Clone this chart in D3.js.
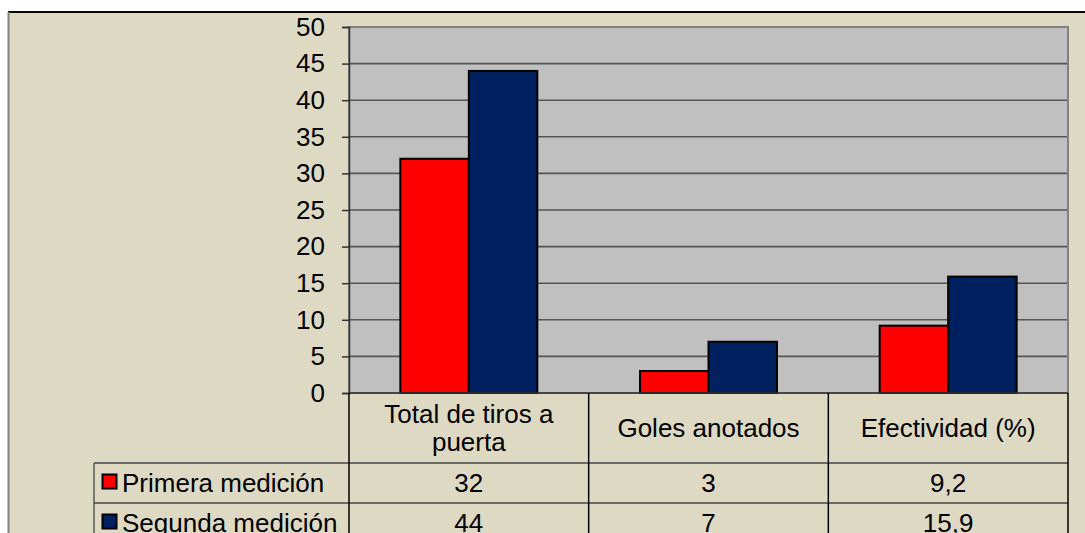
<!DOCTYPE html>
<html>
<head>
<meta charset="utf-8">
<script src="https://cdn.jsdelivr.net/npm/d3@7"></script>
<style>
  body { margin: 0; background: #fff; }
  text { font-family: "Liberation Sans", Arial, sans-serif; fill: #000; }
</style>
</head>
<body>
<div id="chart"></div>
<script>
// data
const categories = ["Total de tiros a puerta", "Goles anotados", "Efectividad (%)"];
const seriesNames = ["Primera medición", "Segunda medición"];
const primera = [32, 3, 9.2];
const segunda = [44, 7, 15.9];
const yTicks = [0, 5, 10, 15, 20, 25, 30, 35, 40, 45, 50];
const colors = ["#ff0000", "#002060"];

const series = [primera, segunda];
const W = 1085, H = 533;
const plot = {left: 349, right: 1068, top: 27, bottom: 393};
const rowH = [70, 40, 40];
const fontSize = 26;

const svg = d3.select("#chart").append("svg")
    .attr("width", W)
    .attr("height", H);

// background
svg.append("rect").attr("x", 8).attr("y", 12).attr("width", W - 8).attr("height", H - 12)
    .attr("fill", "#ddd9c3");
svg.append("line").attr("x1", 8).attr("x2", W).attr("y1", 12).attr("y2", 12)
    .attr("stroke", "#000").attr("stroke-width", 2);
svg.append("line").attr("x1", 8.5).attr("x2", 8.5).attr("y1", 12).attr("y2", H)
    .attr("stroke", "#808080").attr("stroke-width", 2);

const y = d3.scaleLinear().domain([0, 50]).range([plot.bottom, plot.top]);
const x = d3.scaleBand().domain(categories).range([plot.left, plot.right]).padding(0);
const xs = d3.scaleBand().domain(seriesNames).range([0, x.bandwidth()])
    .paddingInner(0).paddingOuter(0.75);

// plot area
svg.append("rect")
    .attr("x", plot.left).attr("y", plot.top)
    .attr("width", plot.right - plot.left).attr("height", plot.bottom - plot.top)
    .attr("fill", "#c0c0c0");

// gridlines
svg.append("g").selectAll("line")
    .data(yTicks.filter(d => d > 0 && d < 50))
    .join("line")
    .attr("x1", plot.left).attr("x2", plot.right)
    .attr("y1", d => y(d)).attr("y2", d => y(d))
    .attr("stroke", "#555").attr("stroke-width", 1.6);

// plot border
svg.append("rect")
    .attr("x", plot.left).attr("y", plot.top)
    .attr("width", plot.right - plot.left).attr("height", plot.bottom - plot.top)
    .attr("fill", "none").attr("stroke", "#808080").attr("stroke-width", 2);

// bars
svg.append("g").selectAll("g")
    .data(series)
    .join("g")
    .attr("fill", (d, i) => colors[i])
    .each(function(vals, si) {
      d3.select(this).selectAll("rect")
        .data(vals)
        .join("rect")
        .attr("x", (v, ci) => x(categories[ci]) + xs(seriesNames[si]))
        .attr("y", v => y(v))
        .attr("width", xs.bandwidth())
        .attr("height", v => y(0) - y(v))
        .attr("stroke", "#000")
        .attr("stroke-width", 2);
    });

// y axis
const yAxis = svg.append("g")
    .attr("transform", `translate(${plot.left},0)`)
    .call(d3.axisLeft(y).tickValues(yTicks).tickSize(7).tickPadding(17).tickFormat(d3.format("d")));
yAxis.select(".domain").attr("stroke", "#333").attr("stroke-width", 1.5);
yAxis.selectAll(".tick line").attr("stroke", "#333").attr("stroke-width", 1.5);
yAxis.selectAll("text")
    .style("font-size", fontSize + "px")
    .style("font-family", "'Liberation Sans', Arial, sans-serif")
    .attr("fill", "#000");

// data table
const tableTop = plot.bottom;
const row1 = tableTop + rowH[0];
const row2 = row1 + rowH[1];
const row3 = row2 + rowH[2];
const legendLeft = 94;
const tbl = svg.append("g");

// horizontal lines
tbl.append("line").attr("x1", plot.left).attr("x2", plot.right).attr("y1", tableTop).attr("y2", tableTop)
    .attr("stroke", "#333").attr("stroke-width", 1.5);
[row1, row2].forEach(yy => {
  tbl.append("line").attr("x1", legendLeft).attr("x2", plot.right).attr("y1", yy).attr("y2", yy)
      .attr("stroke", "#444").attr("stroke-width", 1.3);
});
// vertical lines
const colEdges = categories.map(c => x(c)).concat([plot.right]);
tbl.selectAll("line.v")
    .data(colEdges)
    .join("line")
    .attr("class", "v")
    .attr("x1", d => d).attr("x2", d => d)
    .attr("y1", tableTop).attr("y2", row3)
    .attr("stroke", "#000").attr("stroke-width", 1.5);
tbl.append("line").attr("x1", legendLeft).attr("x2", legendLeft).attr("y1", row1).attr("y2", row3)
    .attr("stroke", "#444").attr("stroke-width", 1.3);

// category labels (wrapped)
function wrap(sel, width, lineH) {
  sel.each(function() {
    const t = d3.select(this);
    const words = t.text().split(/\s+/);
    const cx = t.attr("x"), cy = +t.attr("y");
    t.text(null);
    let lines = [], line = [];
    const probe = t.append("tspan");
    words.forEach(w => {
      line.push(w);
      probe.text(line.join(" "));
      if (probe.node().getComputedTextLength() > width && line.length > 1) {
        line.pop();
        lines.push(line.join(" "));
        line = [w];
      }
    });
    lines.push(line.join(" "));
    probe.remove();
    const y0 = cy - (lines.length - 1) * lineH / 2;
    lines.forEach((l, i) => {
      t.append("tspan").attr("x", cx).attr("y", y0 + i * lineH).text(l);
    });
  });
}

tbl.selectAll("text.cat")
    .data(categories)
    .join("text")
    .attr("class", "cat")
    .attr("x", d => x(d) + x.bandwidth() / 2)
    .attr("y", (tableTop + row1) / 2 + 9)
    .attr("text-anchor", "middle")
    .style("font-size", fontSize + "px")
    .text(d => d)
    .call(wrap, x.bandwidth() - 20, 28);

const fmt = v => String(v).replace(".", ",");
const rowTops = [row1, row2];
series.forEach((vals, si) => {
  const cy = rowTops[si] + rowH[si + 1] / 2;
  tbl.append("g").selectAll("text")
      .data(vals)
      .join("text")
      .attr("x", (v, ci) => x(categories[ci]) + x.bandwidth() / 2)
      .attr("y", cy + 9)
      .attr("text-anchor", "middle")
      .style("font-size", fontSize + "px")
      .text(fmt);
  // legend key
  tbl.append("rect")
      .attr("x", 102.5).attr("y", cy - 8.5)
      .attr("width", 14).attr("height", 14)
      .attr("fill", colors[si]).attr("stroke", "#000").attr("stroke-width", 2);
  tbl.append("text")
      .attr("x", 122).attr("y", cy + 9)
      .style("font-size", fontSize + "px")
      .text(seriesNames[si]);
});
</script>
</body>
</html>
